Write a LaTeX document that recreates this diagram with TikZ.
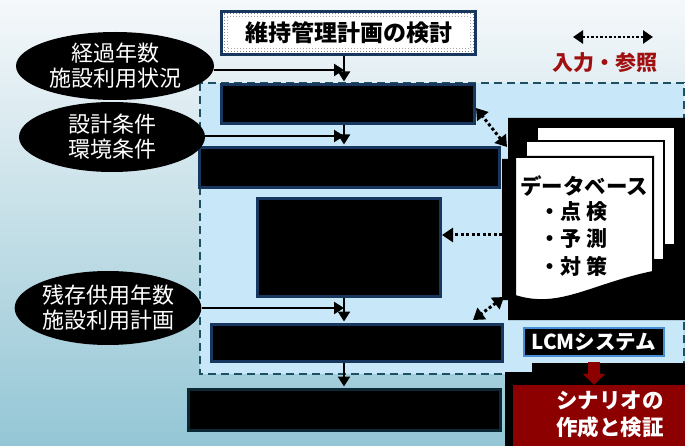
\documentclass[tikz,border=0pt]{standalone}
\usepackage{fontspec}
\setmainfont{Noto Sans CJK JP}
\usetikzlibrary{arrows.meta,shapes.geometric}
\definecolor{navy}{RGB}{23,55,94}
\definecolor{bgtop}{RGB}{245,248,250}
\definecolor{bgmid}{RGB}{220,238,244}
\definecolor{bgbot}{RGB}{148,198,213}
\definecolor{zone}{RGB}{200,232,250}
\definecolor{zoneline}{RGB}{30,80,100}
\definecolor{darkred}{RGB}{140,0,0}
\definecolor{legred}{RGB}{160,16,16}
\definecolor{lcmblue}{RGB}{70,140,210}
\definecolor{box5line}{RGB}{12,40,52}
\begin{document}
\begin{tikzpicture}[x=1pt,y=-1pt,
  navybox/.style={draw=navy,line width=3pt,fill=black,inner sep=0pt},
  ell/.style={ellipse,fill=black,text=white,inner sep=0pt,align=center,font=\fontsize{22}{25}\selectfont},
  arr/.style={line width=2.2pt,-{Triangle[length=10pt,width=12pt]}},
  dotline/.style={line width=3pt,dash pattern=on 3pt off 2.5pt},
  dtip/.tip={Triangle[length=11pt,width=14pt]},
  sheet/.style={fill=white,draw=black,line width=2pt},
]
\useasboundingbox (0,0) rectangle (685,446);
\shade[top color=bgtop,middle color=bgmid,bottom color=bgbot] (0,0) rectangle (685,446);

% dashed zone
\path[fill=zone] (200,83) rectangle (684,374);
\draw[zoneline,line width=2.5pt,dash pattern=on 8pt off 5pt] (200,83) rectangle (684,374);

% title
\node[draw=navy,line width=3pt,fill=white,minimum width=254pt,minimum height=43pt,inner sep=0pt,
      font=\fontsize{23}{25}\selectfont\bfseries] (title) at (348.5,33) {維持管理計画の検討};
\draw[gray,dotted,line width=1pt] (224,14) rectangle (473,52);
\draw[gray!70,dotted,line width=1pt] (227,17) rectangle (470,49);

% main boxes
\node[navybox,minimum width=253pt,minimum height=39pt] (box1) at (348,104) {};
\node[navybox,minimum width=300pt,minimum height=40pt] (box2) at (349.5,167.5) {};
\node[navybox,minimum width=183pt,minimum height=98pt] (box3) at (349,247.5) {};
\node[navybox,minimum width=291pt,minimum height=37pt] (box4) at (357,343) {};
\node[draw=box5line,line width=3pt,fill=black,inner sep=0pt,minimum width=312pt,minimum height=41pt] (box5) at (344.5,410) {};

% ellipses
\node[ell,minimum width=198pt,minimum height=68pt] (e1) at (115,66) {経過年数\\施設利用状況};
\node[ell,minimum width=186pt,minimum height=70pt] (e2) at (112,137) {設計条件\\環境条件};
\node[ell,minimum width=186pt,minimum height=74pt] (e3) at (108,308) {残存供用年数\\施設利用計画};

% main flow
\coordinate (v1) at (344,70);
\coordinate (v2) at (344,136);
\coordinate (v3) at (344,308);
\draw[arr] (e1.east |- v1) -- (v1);
\draw[arr] (e2.east |- v2) -- (v2);
\draw[arr] (e3.east |- v3) -- (v3);
\draw[arr,shorten >=1.5pt] (title.south -| v1) -- (box1.north -| v1);
\draw[arr,shorten >=1.5pt] (box1.south -| v1) -- (box2.north -| v1);
\draw[arr,shorten >=1.5pt] (box3.south -| v1) -- (box4.north -| v1);
\draw[arr,shorten >=1.5pt] (box4.south -| v1) -- (box5.north -| v1);

% database
\fill[black] (508,118) -- (685,118) -- (685,320) -- (508,320) -- (508,300) -- (502,300) -- (502,159) -- (508,159) -- cycle;
\filldraw[sheet] (537,127) rectangle (675,245);
\filldraw[sheet] (526,141) rectangle (664,260);
\filldraw[sheet] (515,157) -- (653,157) -- (653,272) .. controls (590,285) and (560,310) .. (515,296) -- cycle;
\node[font=\fontsize{21.5}{24}\selectfont\bfseries,inner sep=0pt] (dbtitle) at (584,186) {データベース};
\node[font=\fontsize{21}{27.5}\selectfont\bfseries,inner sep=0pt,align=left,anchor=north west] (dblist) at (539,201) {・点 検\\・予 測\\・対 策};
\coordinate (dbA) at (507,147);
\coordinate (dbB) at (502,235);
\coordinate (dbC) at (504,297);

% dotted arrows
\draw[dotline,dtip-dtip] (dbA) -- ([yshift=-4pt]box1.east);
\draw[dotline,-dtip] (dbB) -- (box3.east |- dbB);
\draw[dotline,dtip-dtip] (dbC) -- ([xshift=-31pt,yshift=3pt]box4.north east);

% legend
\coordinate (legL) at (573,37);
\coordinate (legR) at (653,37);
\draw[line width=2.5pt,dash pattern=on 2.5pt off 2pt,{Triangle[length=10pt,width=13pt]}-{Triangle[length=10pt,width=13pt]}] (legL) -- (legR);
\node[text=legred,font=\fontsize{21}{24}\selectfont\bfseries,inner sep=0pt] (legtext) at (605,63) {入力・参照};

% LCM system and scenario
\fill[black] (532,363) -- (685,363) -- (685,446) -- (505,446) -- (505,372) -- (532,372) -- cycle;
\node[draw=lcmblue,line width=2pt,fill=black,text=white,minimum width=140pt,minimum height=28pt,inner sep=0pt,
      font=\fontsize{20.5}{22}\selectfont\bfseries] (lcm) at (594,342) {LCMシステム};
\node[fill=darkred,minimum width=172pt,minimum height=61pt,inner sep=0pt] (scen) at (599,415.5) {};
\node[text=white,font=\fontsize{21.5}{27}\selectfont\bfseries,align=center,inner sep=0pt] (scentext) at (610,414) {シナリオの\\作成と検証};
\draw[darkred,line width=12pt,-{Triangle[length=11pt,width=22pt]}] ([yshift=-5pt]lcm.south) -- (lcm.south |- scen.north);
\end{tikzpicture}
\end{document}
